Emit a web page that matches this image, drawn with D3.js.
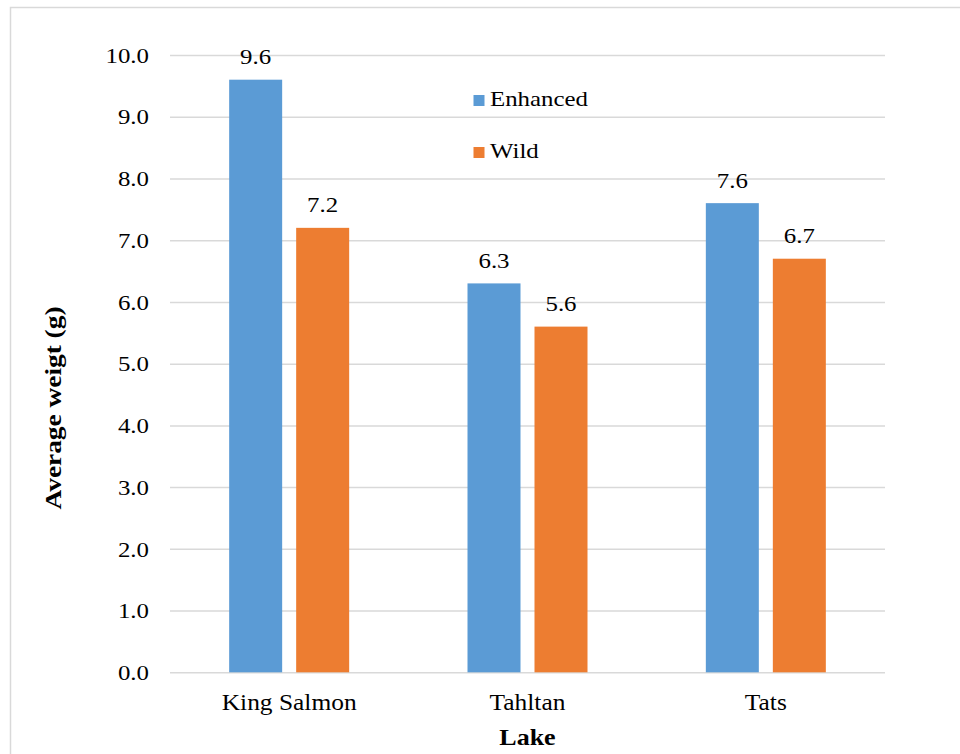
<!DOCTYPE html>
<html>
<head>
<meta charset="utf-8">
<script src="https://cdn.jsdelivr.net/npm/d3@7/dist/d3.min.js"></script>
<style>
  html, body { margin: 0; padding: 0; background: #fff; }
  svg { display: block; }
</style>
</head>
<body>
<svg id="chart" width="960" height="754"></svg>
<script>
// Average weight of fry by lake and origin
const lakes = ["King Salmon", "Tahltan", "Tats"];
const seriesNames = ["Enhanced", "Wild"];
const enhanced = [9.6, 6.3, 7.6];
const wild = [7.2, 5.6, 6.7];
const yTicks = [0, 1, 2, 3, 4, 5, 6, 7, 8, 9, 10];
const colors = ["#5B9BD5", "#ED7D31"];

const FONT = "'Liberation Serif', 'Times New Roman', serif";
const svg = d3.select("#chart");
const W = 960, H = 754;
const plot = { left: 170, right: 885, top: 55, bottom: 672.3 };
const widen = 1.13; // glyphs are drawn slightly wide

// stretch a text element horizontally by a factor, keeping its anchor
function stretch(sel, k) {
  sel.each(function () {
    const len = this.getComputedTextLength();
    d3.select(this).attr("textLength", len * k).attr("lengthAdjust", "spacingAndGlyphs");
  });
}

// chart frame
svg.append("rect")
  .attr("x", 10.5).attr("y", 7.5)
  .attr("width", W + 20).attr("height", H + 20)
  .attr("fill", "#fff").attr("stroke", "#D9D9D9").attr("stroke-width", 1.5);

const y = d3.scaleLinear().domain([0, 10]).range([plot.bottom, plot.top]);
// even category slots, bar pair centred in each slot
const x0 = d3.scaleBand().domain(lakes).range([plot.left, plot.right])
  .paddingInner(0.4965).paddingOuter(0.4965 / 2);
const x1 = d3.scaleBand().domain(seriesNames).range([0, x0.bandwidth()])
  .paddingInner(0.209);

// gridlines + tick labels via a left axis
const yAxis = d3.axisLeft(y)
  .tickValues(yTicks)
  .tickSize(-(plot.right - plot.left))
  .tickPadding(21)
  .tickFormat(d3.format(".1f"));
const gy = svg.append("g")
  .attr("transform", `translate(${plot.left},0)`)
  .call(yAxis);
gy.select(".domain").remove();
gy.selectAll(".tick line").attr("stroke", "#D9D9D9").attr("stroke-width", 1.5);
gy.selectAll(".tick text")
  .style("font-family", FONT)
  .style("font-size", "22px")
  .attr("fill", "#000")
  .attr("dy", "0.33em")
  .call(stretch, widen);

// bars
const rows = lakes.map((lake, i) => ({ lake, values: [enhanced[i], wild[i]] }));
const groups = svg.append("g").selectAll("g")
  .data(rows).join("g")
  .attr("transform", d => `translate(${x0(d.lake)},0)`);

groups.selectAll("rect")
  .data(d => d.values.map((v, j) => ({ name: seriesNames[j], value: v, j })))
  .join("rect")
  .attr("x", d => x1(d.name))
  .attr("y", d => y(d.value))
  .attr("width", x1.bandwidth())
  .attr("height", d => y(0) - y(d.value))
  .attr("fill", d => colors[d.j]);

// value labels
groups.selectAll("text.val")
  .data(d => d.values.map((v, j) => ({ name: seriesNames[j], value: v })))
  .join("text")
  .attr("class", "val")
  .attr("x", d => x1(d.name) + x1.bandwidth() / 2)
  .attr("y", d => y(d.value) - 15.5)
  .attr("text-anchor", "middle")
  .style("font-family", FONT)
  .style("font-size", "22px")
  .attr("fill", "#000")
  .text(d => d3.format(".1f")(d.value))
  .call(stretch, widen);

// category labels
svg.append("g").selectAll("text")
  .data(lakes).join("text")
  .attr("x", d => x0(d) + x0.bandwidth() / 2)
  .attr("y", 710)
  .attr("text-anchor", "middle")
  .style("font-family", FONT)
  .style("font-size", "22.5px")
  .attr("fill", "#000")
  .text(d => d)
  .call(stretch, widen);

// axis titles
svg.append("text")
  .attr("x", 527.5).attr("y", 745)
  .attr("text-anchor", "middle")
  .style("font-family", FONT)
  .style("font-size", "23px").style("font-weight", "bold")
  .attr("fill", "#000")
  .text("Lake")
  .call(stretch, widen);

svg.append("text")
  .attr("transform", "translate(61,408) rotate(-90)")
  .attr("text-anchor", "middle")
  .style("font-family", FONT)
  .style("font-size", "24px").style("font-weight", "bold")
  .attr("fill", "#000")
  .attr("textLength", 203).attr("lengthAdjust", "spacingAndGlyphs")
  .text("Average weigt (g)");

// legend
const legend = svg.append("g").selectAll("g")
  .data(seriesNames).join("g")
  .attr("transform", (d, i) => `translate(473.5,${95 + i * 52})`);
legend.append("rect")
  .attr("width", 11).attr("height", 11)
  .attr("fill", (d, i) => colors[i]);
legend.append("text")
  .attr("x", 16.5).attr("y", 11)
  .style("font-family", FONT)
  .style("font-size", "22px")
  .attr("fill", "#000")
  .text(d => d)
  .call(stretch, widen);
</script>
</body>
</html>
